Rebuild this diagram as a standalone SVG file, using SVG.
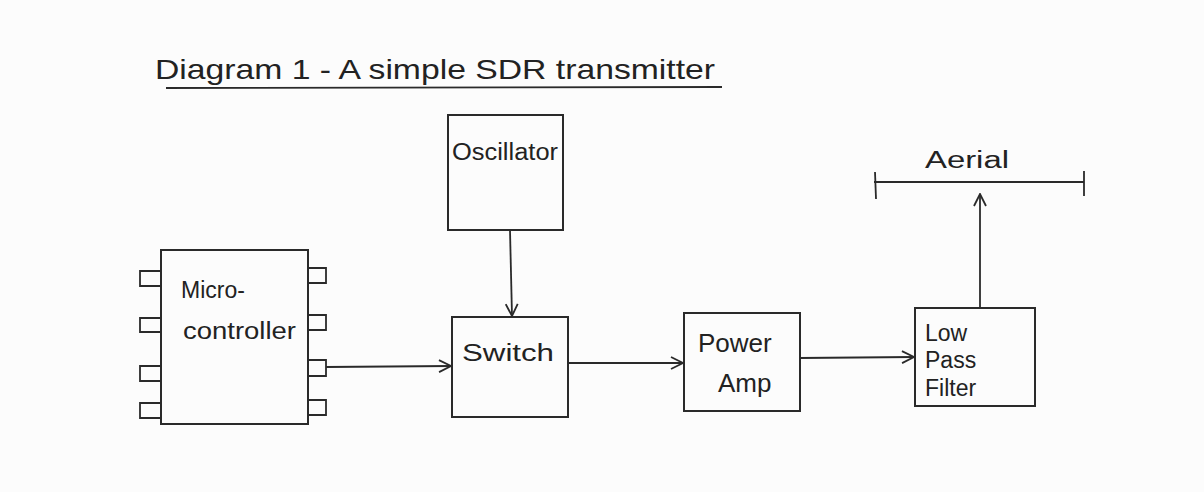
<svg xmlns="http://www.w3.org/2000/svg" width="1204" height="492" viewBox="0 0 1204 492">
<defs>
<style>
.box{fill:none;stroke:#2a2a2a;stroke-width:2}
.ln{fill:none;stroke:#2a2a2a;stroke-width:1.8}
.lbl{font-family:"Liberation Sans",Arial,sans-serif;fill:#222;font-size:23px}
.big{font-size:26px}
.title{font-family:"Liberation Sans",Arial,sans-serif;fill:#222;font-size:28px}
</style>
<marker id="arr" viewBox="0 0 14 14" refX="13" refY="7" markerWidth="14" markerHeight="14" markerUnits="userSpaceOnUse" orient="auto">
<path d="M1,1 L13,7 L1,13" fill="none" stroke="#2a2a2a" stroke-width="1.8"/>
</marker>
</defs>
<rect width="1204" height="492" fill="#fcfcfc"/>
<g id="title">
<text class="title" x="155" y="79" textLength="560" lengthAdjust="spacingAndGlyphs">Diagram 1 - A simple SDR transmitter</text>
<line class="ln" x1="166" y1="88" x2="722" y2="87"/>
</g>
<g id="microcontroller">
<rect class="box" x="161" y="250" width="147" height="174"/>
<path class="ln" d="M161,271 H140 V286 H161 M161,318 H140 V332 H161 M161,366 H140 V381 H161 M161,403 H140 V418 H161"/>
<path class="ln" d="M308,268 H326 V283 H308 M308,315 H326 V330 H308 M308,360 H326 V376 H308 M308,400 H326 V415 H308"/>
<text class="lbl" x="181" y="298">Micro-</text>
<text class="lbl" x="183" y="339" textLength="113" lengthAdjust="spacingAndGlyphs">controller</text>
</g>
<g id="oscillator">
<rect class="box" x="448" y="115" width="115" height="115"/>
<text class="lbl" x="452" y="160" textLength="106" lengthAdjust="spacingAndGlyphs">Oscillator</text>
</g>
<g id="switch">
<rect class="box" x="452" y="317" width="116" height="100"/>
<text class="lbl" x="462" y="361" textLength="92" lengthAdjust="spacingAndGlyphs">Switch</text>
</g>
<g id="power-amp">
<rect class="box" x="684" y="313" width="116" height="98"/>
<text class="lbl big" x="698" y="352">Power</text>
<text class="lbl big" x="718" y="392">Amp</text>
</g>
<g id="low-pass-filter">
<rect class="box" x="915" y="308" width="120" height="98"/>
<text class="lbl" x="925" y="341">Low</text>
<text class="lbl" x="925" y="368">Pass</text>
<text class="lbl" x="925" y="396">Filter</text>
</g>
<g id="aerial">
<line class="ln" x1="874" y1="182" x2="1084" y2="182"/>
<line class="ln" x1="875" y1="172" x2="876" y2="199"/>
<line class="ln" x1="1084" y1="171" x2="1084" y2="196"/>
<text class="lbl" x="925" y="168" textLength="84" lengthAdjust="spacingAndGlyphs">Aerial</text>
</g>
<g id="connectors">
<line class="ln" x1="326" y1="367" x2="451" y2="366" marker-end="url(#arr)"/>
<line class="ln" x1="510" y1="230" x2="512" y2="316" marker-end="url(#arr)"/>
<line class="ln" x1="568" y1="363" x2="683" y2="363" marker-end="url(#arr)"/>
<line class="ln" x1="800" y1="358" x2="914" y2="357" marker-end="url(#arr)"/>
<line class="ln" x1="980" y1="308" x2="980" y2="194" marker-end="url(#arr)"/>
</g>
</svg>
